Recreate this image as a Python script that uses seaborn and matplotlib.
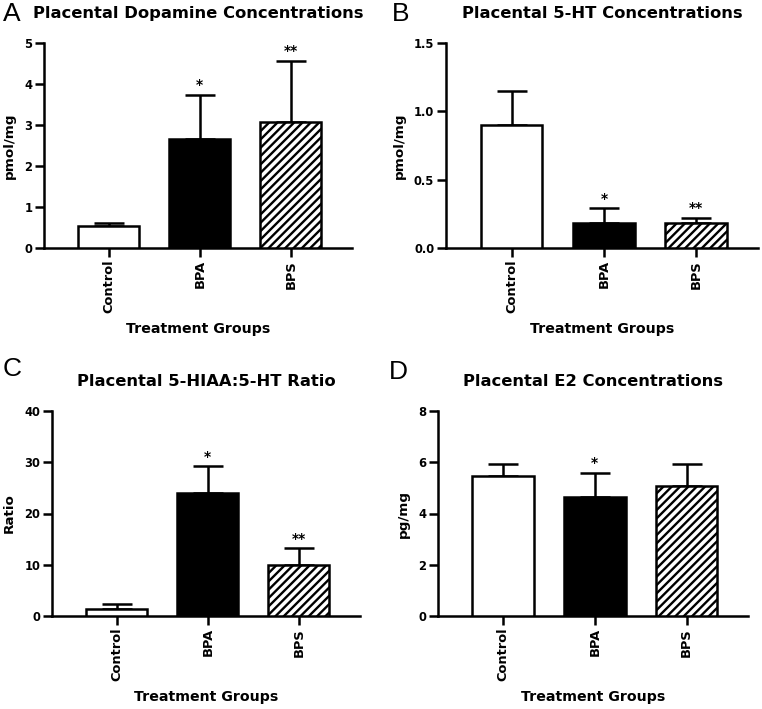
import matplotlib
matplotlib.use("Agg")
import matplotlib.pyplot as plt
import seaborn as sns
import pandas as pd

groups = ["Control", "BPA", "BPS"]

dopamine_mean = [0.53, 2.65, 3.07]
dopamine_sem = [0.09, 1.08, 1.50]
dopamine_stars = ["", "*", "**"]

ht_mean = [0.90, 0.18, 0.185]
ht_sem = [0.25, 0.11, 0.035]
ht_stars = ["", "*", "**"]

ratio_mean = [1.4, 24.0, 9.9]
ratio_sem = [0.9, 5.2, 3.3]
ratio_stars = ["", "*", "**"]

e2_mean = [5.48, 4.65, 5.07]
e2_sem = [0.47, 0.95, 0.85]
e2_stars = ["", "*", ""]

panels = [
    dict(letter="A", title="Placental Dopamine Concentrations", ylabel="pmol/mg",
         mean=dopamine_mean, sem=dopamine_sem, stars=dopamine_stars,
         ylim=(0, 5), yticks=[0, 1, 2, 3, 4, 5], fmt="{:g}"),
    dict(letter="B", title="Placental 5-HT Concentrations", ylabel="pmol/mg",
         mean=ht_mean, sem=ht_sem, stars=ht_stars,
         ylim=(0, 1.5), yticks=[0, 0.5, 1.0, 1.5], fmt="{:.1f}"),
    dict(letter="C", title="Placental 5-HIAA:5-HT Ratio", ylabel="Ratio",
         mean=ratio_mean, sem=ratio_sem, stars=ratio_stars,
         ylim=(0, 40), yticks=[0, 10, 20, 30, 40], fmt="{:g}"),
    dict(letter="D", title="Placental E2 Concentrations", ylabel="pg/mg",
         mean=e2_mean, sem=e2_sem, stars=e2_stars,
         ylim=(0, 8), yticks=[0, 2, 4, 6, 8], fmt="{:g}"),
]

sns.set_style("ticks")
plt.rcParams["font.family"] = ["DejaVu Sans"]
plt.rcParams["hatch.linewidth"] = 1.7
for k in ["text.color", "axes.labelcolor", "xtick.color", "ytick.color"]:
    plt.rcParams[k] = "black"

W, H = 762, 709
fig = plt.figure(figsize=(W / 100, H / 100), dpi=100)

# axes boxes in pixels: left, right, top, bottom
boxes = [(44, 352, 43, 248), (446, 758, 43, 248), (52, 360, 411, 616), (438, 748, 411, 616)]
letter_pos = [(3, 2), (392, 2), (3, 357), (389, 360)]

lw = 1.8
for p, (l, r, t, b), (lx, ly) in zip(panels, boxes, letter_pos):
    ax = fig.add_axes([l / W, 1 - b / H, (r - l) / W, (b - t) / H])
    df = pd.DataFrame({"group": groups, "value": p["mean"]})
    sns.barplot(data=df, x="group", y="value", hue="group",
                palette=["white", "black", "white"], edgecolor="black",
                linewidth=lw, width=0.67, errorbar=None, legend=False,
                ax=ax, zorder=3)
    ax.patches[2].set_hatch("////")
    ax.errorbar(range(3), p["mean"], yerr=[[0, 0, 0], p["sem"]], fmt="none",
                ecolor="black", elinewidth=lw, capsize=11, capthick=lw, zorder=2)
    for i, s in enumerate(p["stars"]):
        if s:
            ax.annotate(s, (i, p["mean"][i] + p["sem"][i]), xytext=(0, 2),
                        textcoords="offset points", ha="center", va="bottom",
                        fontsize=10, fontweight="bold")
    ax.set_xlim(-0.71, 2.67)
    ax.set_ylim(*p["ylim"])
    ax.set_yticks(p["yticks"])
    ax.set_yticklabels([p["fmt"].format(v) for v in p["yticks"]],
                       fontsize=8.3, fontweight="bold")
    ax.set_xticks(range(3))
    ax.set_xticklabels(groups, rotation=90, fontsize=9.4, fontweight="bold")
    ax.tick_params(axis="both", direction="out", length=6.5, width=lw, color="black", pad=2)
    sns.despine(ax=ax)
    for sp in ["left", "bottom"]:
        ax.spines[sp].set_linewidth(lw)
        ax.spines[sp].set_color("black")
    ax.set_xlabel("Treatment Groups", fontsize=10.2, fontweight="bold", labelpad=6)
    ax.set_ylabel(p["ylabel"], fontsize=9.7, fontweight="bold", labelpad=6)
    ax.set_title(p["title"], fontsize=11.8, fontweight="bold", pad=18)
    ax.set_facecolor("white")
    fig.text(lx / W, 1 - ly / H, p["letter"], fontsize=19,
             family="Liberation Sans", ha="left", va="top")

fig.savefig("out.png", dpi=100, facecolor="white")
